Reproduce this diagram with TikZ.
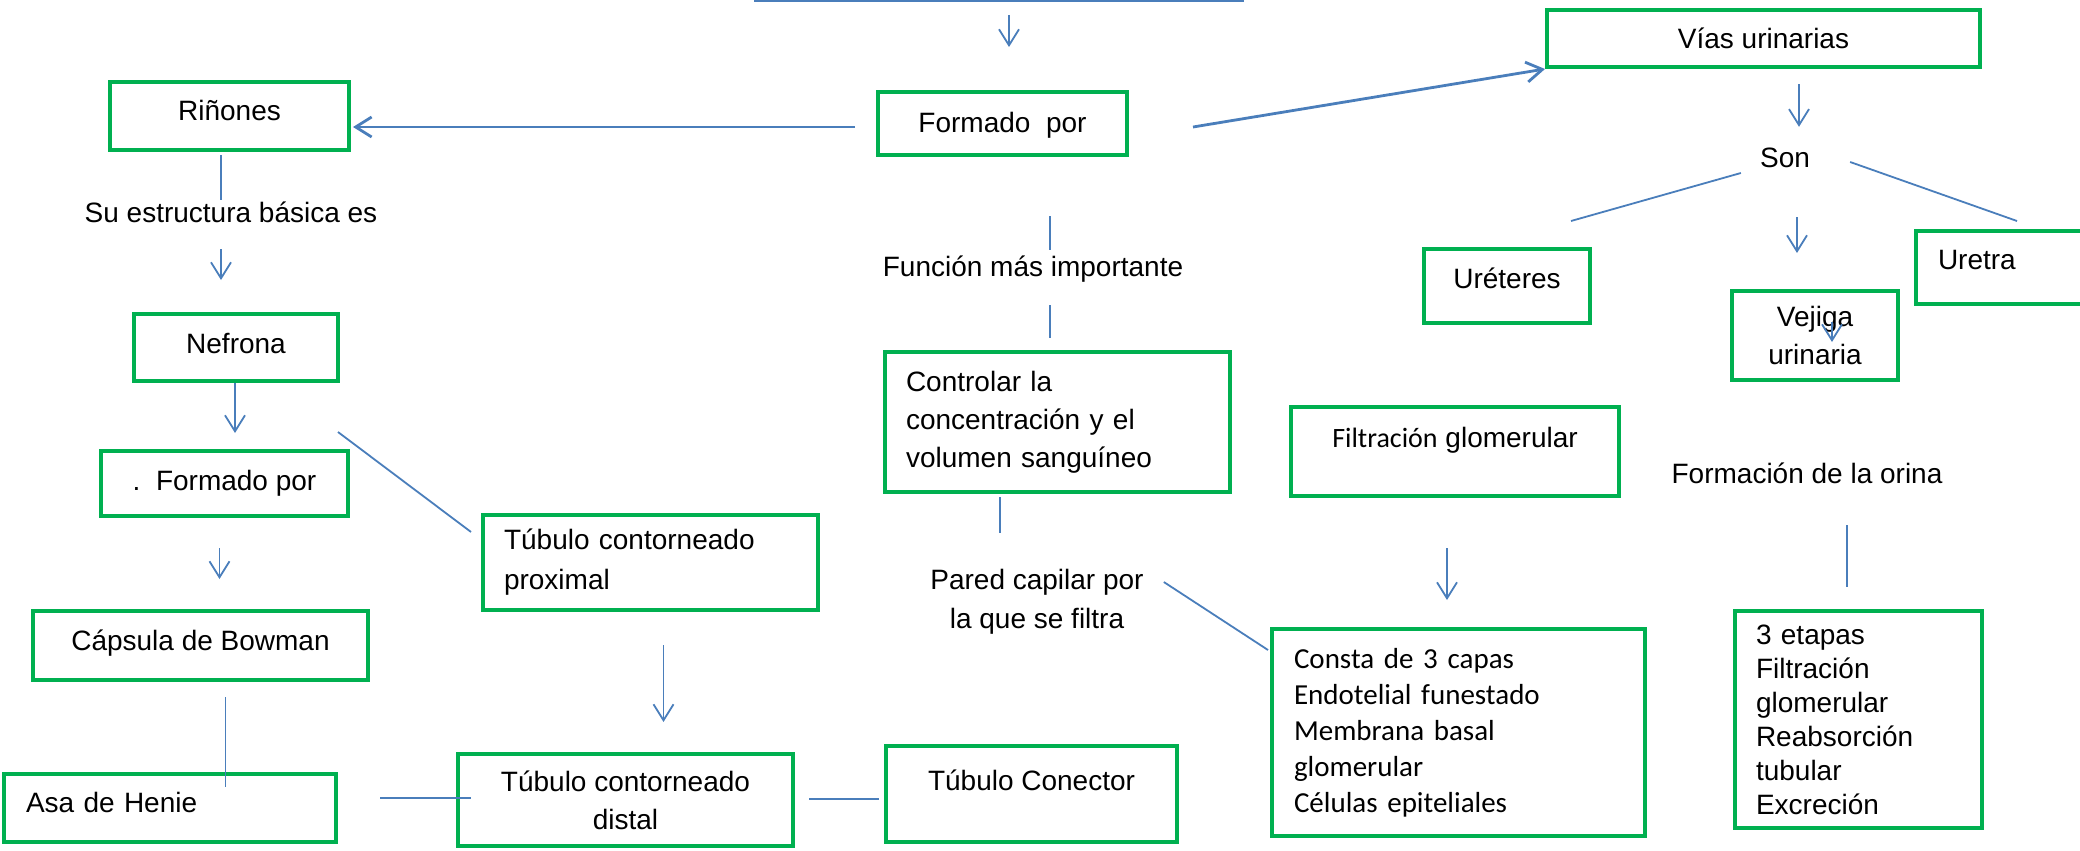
\documentclass[tikz,border=0pt]{standalone}
\usepackage{fontspec}
\setmainfont{Liberation Sans}
\newfontfamily\calfont{Carlito}
\usetikzlibrary{arrows.meta}
\definecolor{boxgreen}{RGB}{0,176,80}
\definecolor{linkblue}{RGB}{74,126,187}

\begin{document}
\begin{tikzpicture}[x=1pt,y=-1pt,
   every node/.style={font=\fontsize{28}{38}\selectfont,inner sep=0pt},
   box/.style 2 args={draw=boxgreen,line width=4pt,minimum width=#1pt,minimum height=#2pt},
   oneline/.style={text height=20pt,text depth=#1},oneline/.default=0pt,
   lft/.style={align=left,text width=#1pt,inner xsep=21pt},
   ln/.style={draw=linkblue,line width=1.8pt},
   arr/.style={ln,-{Straight Barb[length=16pt,width=20pt]}},
   bold/.style={line width=2.8pt}]
\path[use as bounding box,clip] (0,0) rectangle (2080,851);

\node[box={239}{68},oneline=12pt] (rinones) at (229.5,116) {Riñones};
\node[oneline] (estructura) at (231,212) {Su estructura básica es};
\node[box={204}{67},oneline=9pt] (nefrona) at (236,347.5) {Nefrona};
\node[box={247}{65},oneline=7pt] (fpor) at (224.5,483.5) {.~~Formado por};
\node[box={335}{69},oneline=11pt] (capsula) at (200.5,645.5) {Cápsula de Bowman};
\node[box={332}{68},lft=288,inner xsep=22pt,oneline=12pt] (asa) at (170,808) {Asa de Henie};
\node[box={335}{95},lft=293,font=\fontsize{28}{40}\selectfont] (proximal) at (650.5,562.5) {Túbulo contorneado\\proximal};
\node[box={335}{92},align=center] (distal) at (625.5,800) {Túbulo contorneado\\distal};
\node[box={291}{96},oneline=28pt] (conector) at (1031.5,794) {Túbulo Conector};

\node[box={249}{63},oneline=3pt] (formado) at (1002.5,123.5) {Formado~~por};
\node[oneline] (funcion) at (1033,266) {Función más importante};
\node[box={345}{140},lft=303] (controlar) at (1057.5,422) {Controlar la\\concentración y el\\volumen sanguíneo};
\node[align=center,font=\fontsize{28}{39}\selectfont] (pared) at (1037,601.5) {Pared capilar por\\la que se filtra};
\node[box={328}{89},oneline=28pt] (filtracion) at (1455,451.5) {{\calfont Filtración} glomerular};
\node[box={373}{207},lft=329,inner xsep=22pt,font=\calfont\fontsize{29}{36}\selectfont] (consta) at (1458.5,732.5)
   {Consta de 3 capas\\Endotelial funestado\\Membrana basal\\glomerular\\Células epiteliales};

\node[box={433}{57},oneline] (vias) at (1763.5,38.5) {Vías urinarias};
\node[oneline] (son) at (1785,157) {Son};
\node[box={166}{74},oneline=16pt] (ureteres) at (1507,286) {Uréteres};
\node[box={166}{89},align=center] (vejiga) at (1815,335.5) {Vejiga\\urinaria};
\node[box={177}{73},lft=133,inner xsep=22pt,oneline=16pt] (uretra) at (2004.5,267.5) {Uretra};
\node[oneline] (formacion) at (1807,473) {Formación de la orina};
\node[box={247}{217},lft=205,font=\fontsize{28}{34}\selectfont] (etapas) at (1858.5,719.5)
   {3 etapas\\Filtración\\glomerular\\Reabsorción\\tubular\\Excreción};

\coordinate (topl) at (754,1);
\coordinate (topr) at (1244,1);
\draw[ln] (topl) -- (topr);
\draw[arr,shorten <=14pt,shorten >=43pt] ([xshift=6.5pt]formado.north |- topl) -- ([xshift=6.5pt]formado.north);
\draw[arr,bold,shorten <=21pt,shorten >=2pt] ([yshift=-3.5pt]formado.west) -- ([yshift=-3.5pt]formado.west -| rinones.east);
\draw[arr,bold] ([xshift=64pt,yshift=-3.5pt]formado.east) -- (vias.south west);

\draw[ln,shorten <=3pt,shorten >=2pt] ([xshift=-8.5pt]rinones.south) -- ([xshift=-8.5pt]rinones.south |- estructura.north);
\draw[arr,shorten <=27pt,shorten >=32pt] ([xshift=-10pt]estructura.south) -- ([xshift=-10pt]estructura.south |- nefrona.north);
\draw[arr,shorten >=16pt] ([xshift=-1pt]nefrona.south) -- ([xshift=-1pt]nefrona.south |- fpor.north);
\draw[ln] ([xshift=-12pt,yshift=17pt]fpor.north east) -- ([xshift=-10pt,yshift=-19pt]proximal.north west);
\draw[arr,shorten <=30pt,shorten >=30pt] ([xshift=-5pt]fpor.south) -- ([xshift=-5pt]fpor.south |- capsula.north);
\draw[ln,shorten <=15pt,shorten >=-15pt] ([xshift=25pt]capsula.south) -- ([xshift=25pt]capsula.south |- asa.north);
\draw[ln,shorten <=42pt,shorten >=-15pt] ([yshift=10pt]asa.east) -- ([yshift=10pt]asa.east -| distal.west);
\draw[arr,shorten <=33pt,shorten >=30pt] ([xshift=13pt]proximal.south) -- ([xshift=13pt]proximal.south |- distal.north);
\draw[ln,shorten <=14pt,shorten >=5pt] ([yshift=1pt]distal.east) -- ([yshift=1pt]distal.east -| conector.west);

\draw[ln,shorten <=59pt,shorten >=6pt] ([xshift=47.5pt]formado.south) -- ([xshift=47.5pt]formado.south |- funcion.north);
\draw[ln,shorten <=29pt,shorten >=12pt] ([xshift=17pt]funcion.south) -- ([xshift=17pt]funcion.south |- controlar.north);
\draw[ln,shorten <=3pt,shorten >=36pt] ([xshift=-57.5pt]controlar.south) -- ([xshift=-57.5pt]controlar.south |- pared.north);
\draw[ln] ([xshift=20pt,yshift=19.5pt]pared.east) -- ([xshift=-2pt,yshift=-23pt]consta.north west);
\draw[arr,shorten <=50pt,shorten >=27pt] ([xshift=-8pt]filtracion.south) -- ([xshift=-8pt]filtracion.south |- consta.north);

\draw[arr,shorten <=15pt,shorten >=20pt] ([xshift=35.5pt]vias.south) -- ([xshift=35.5pt]vias.south |- son.north);
\draw[ln] ([xshift=-19pt,yshift=-16pt]son.west) -- ([xshift=-21pt,yshift=26pt]ureteres.north east);
\draw[ln] ([xshift=40pt,yshift=-5pt]son.east) -- ([xshift=12.5pt,yshift=8pt]uretra.north);
\draw[arr,shorten <=50pt,shorten >=36pt] ([xshift=12pt]son.south) -- ([xshift=12pt]son.south |- vejiga.north);
\draw[arr] ([xshift=17pt,yshift=-33pt]vejiga.north) -- ([xshift=17pt,yshift=-53pt]vejiga.north);
\draw[ln,shorten <=42pt,shorten >=22pt] ([xshift=40pt]formacion.south) -- ([xshift=40pt]formacion.south |- etapas.north);
\end{tikzpicture}
\end{document}
